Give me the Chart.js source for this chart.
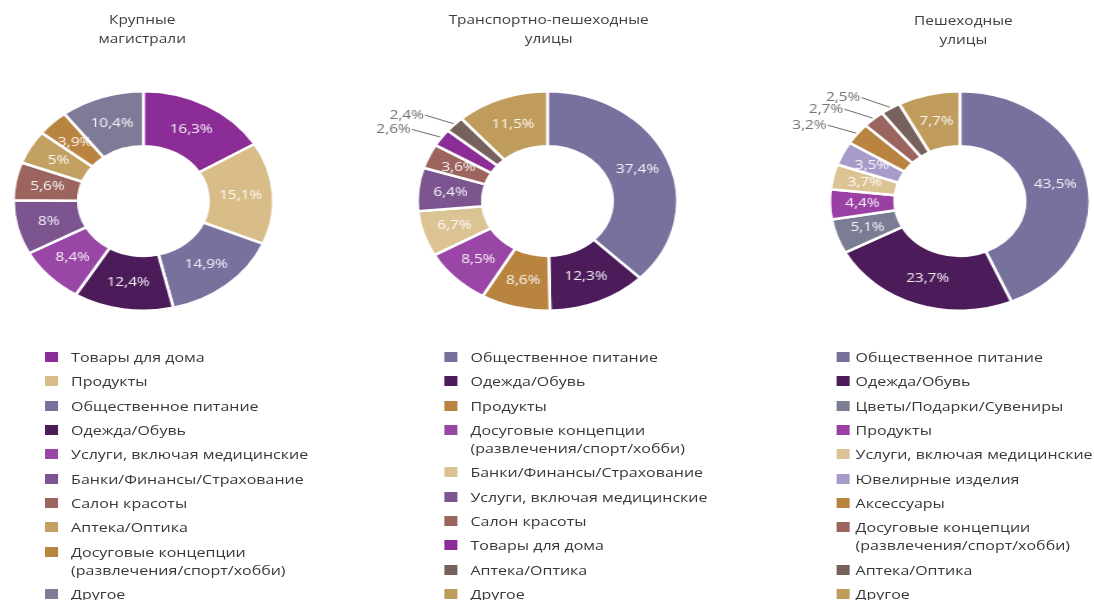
<!DOCTYPE html>
<html lang="ru">
<head>
<meta charset="utf-8">
<script src="https://cdn.jsdelivr.net/npm/chart.js@4.4.0/dist/chart.umd.min.js"></script>
<style>
    body { margin: 0; background: #fff; font-family: "Open Sans", sans-serif; }
    /* картинка в оригинале растянута по горизонтали */
    #page { position: absolute; left: 0; top: 0; width: 923px; height: 600px; transform: scaleX(1.185); transform-origin: 0 0; }
    .title { position: absolute; width: 240px; text-align: center; font-size: 13px; line-height: 19px; color: #404040; }
    .pie { position: absolute; width: 292px; height: 222px; }
    .legend { position: absolute; top: 348px; margin: 0; padding: 0; list-style: none; font-size: 13.5px; line-height: 18px; color: #383838; }
    .legend li { position: relative; margin-bottom: 6.35px; white-space: nowrap; }
    .legend .box { position: absolute; top: 4px; width: 11px; height: 10px; }
</style>
</head>
<body>
<div id="page">
    <div class="title" style="left:0px;top:10px">Крупные<br>магистрали</div>
    <div class="title" style="left:343px;top:10px">Транспортно-пешеходные<br>улицы</div>
    <div class="title" style="left:693px;top:11px">Пешеходные<br>улицы</div>

    <!-- слева запас 70px под выноски -->
    <div class="pie" style="left:-60px;top:90px"><canvas id="chart1"></canvas></div>
    <div class="pie" style="left:281px;top:90px"><canvas id="chart2"></canvas></div>
    <div class="pie" style="left:629px;top:90px"><canvas id="chart3"></canvas></div>

    <ul class="legend" id="legend1" style="left:38px"></ul>
    <ul class="legend" id="legend2" style="left:375px"></ul>
    <ul class="legend" id="legend3" style="left:706px"></ul>
</div>

<script>
// Крупные магистрали
const labels1 = ['Товары для дома', 'Продукты', 'Общественное питание', 'Одежда/Обувь',
    'Услуги, включая медицинские', 'Банки/Финансы/Страхование', 'Салон красоты', 'Аптека/Оптика',
    ['Досуговые концепции', '(развлечения/спорт/хобби)'], 'Другое'];
const values1 = [16.3, 15.1, 14.9, 12.4, 8.4, 8, 5.6, 5, 3.9, 10.4];
const colors1 = ['#8b2c97', '#d8bd88', '#78719e', '#4b1c59', '#9a46a6', '#7b5490', '#9b645f', '#c3a162', '#b8843f', '#7e7b99'];

// Транспортно-пешеходные улицы
const labels2 = ['Общественное питание', 'Одежда/Обувь', 'Продукты',
    ['Досуговые концепции', '(развлечения/спорт/хобби)'], 'Банки/Финансы/Страхование',
    'Услуги, включая медицинские', 'Салон красоты', 'Товары для дома', 'Аптека/Оптика', 'Другое'];
const values2 = [37.4, 12.3, 8.6, 8.5, 6.7, 6.4, 3.6, 2.6, 2.4, 11.5];
const colors2 = ['#78719e', '#4b1c59', '#b8843f', '#9a46a6', '#dcc393', '#7b5490', '#9b645f', '#8b2c97', '#77615c', '#c09c5c'];

// Пешеходные улицы
const labels3 = ['Общественное питание', 'Одежда/Обувь', 'Цветы/Подарки/Сувениры', 'Продукты',
    'Услуги, включая медицинские', 'Ювелирные изделия', 'Аксессуары',
    ['Досуговые концепции', '(развлечения/спорт/хобби)'], 'Аптека/Оптика', 'Другое'];
const values3 = [43.5, 23.7, 5.1, 4.4, 3.7, 3.5, 3.2, 2.7, 2.5, 7.7];
const colors3 = ['#78719e', '#4b1c59', '#7a7d94', '#9a3fa4', '#dcc393', '#a99bc9', '#b8843f', '#9b645f', '#77615c', '#c09c5c'];

// маленькие доли подписываются снаружи с выноской
const OUTSIDE_LIMIT = 3.3;

function fmt(v) {
    return String(v).replace('.', ',') + '%';
}

// подписи процентов на сегментах
const sliceLabels = {
    id: 'sliceLabels',
    afterDatasetsDraw(chart) {
        const ctx = chart.ctx;
        const values = chart.data.datasets[0].data;
        ctx.save();
        ctx.font = '13px "Open Sans", sans-serif';
        ctx.textBaseline = 'middle';
        chart.getDatasetMeta(0).data.forEach((arc, i) => {
            const p = arc.getProps(['x', 'y', 'startAngle', 'endAngle', 'innerRadius', 'outerRadius'], true);
            const mid = (p.startAngle + p.endAngle) / 2;
            const cos = Math.cos(mid), sin = Math.sin(mid);
            if (values[i] >= OUTSIDE_LIMIT) {
                const r = (p.innerRadius + p.outerRadius) / 2;
                ctx.fillStyle = 'rgba(255,255,255,0.92)';
                ctx.textAlign = 'center';
                ctx.fillText(fmt(values[i]), p.x + cos * r, p.y + sin * r);
            } else {
                // выноска уходит влево и немного вверх
                const sx = p.x + cos * (p.outerRadius + 1);
                const sy = p.y + sin * (p.outerRadius + 1);
                const ex = sx - 24, ey = sy - 3 + sin * 8;
                ctx.strokeStyle = '#6a6a6a';
                ctx.lineWidth = 1;
                ctx.beginPath();
                ctx.moveTo(sx, sy);
                ctx.lineTo(ex, ey);
                ctx.stroke();
                ctx.fillStyle = '#707070';
                ctx.textAlign = 'right';
                ctx.fillText(fmt(values[i]), ex - 1, ey);
            }
        });
        ctx.restore();
    }
};

function makeDonut(canvasId, legendId, labels, values, colors) {
    const chart = new Chart(document.getElementById(canvasId), {
        type: 'doughnut',
        data: {
            labels: labels,
            datasets: [{
                data: values,
                backgroundColor: colors,
                borderColor: '#ffffff',
                borderWidth: 2.5
            }]
        },
        options: {
            responsive: true,
            maintainAspectRatio: false,
            animation: false,
            cutout: '50%',
            layout: { padding: { left: 70 } },
            plugins: {
                legend: { display: false },
                tooltip: { enabled: false }
            }
        },
        plugins: [sliceLabels]
    });

    // легенда в html, из данных графика
    const ul = document.getElementById(legendId);
    chart.data.labels.forEach((lab, i) => {
        const li = document.createElement('li');
        li.style.paddingLeft = legendId === 'legend3' ? '16px' : '22px';
        const box = document.createElement('span');
        box.className = 'box';
        box.style.left = '0px';
        box.style.background = colors[i];
        li.appendChild(box);
        const text = Array.isArray(lab) ? lab : [lab];
        text.forEach((line, k) => {
            if (k > 0) li.appendChild(document.createElement('br'));
            li.appendChild(document.createTextNode(line));
        });
        ul.appendChild(li);
    });
    return chart;
}

makeDonut('chart1', 'legend1', labels1, values1, colors1);
makeDonut('chart2', 'legend2', labels2, values2, colors2);
makeDonut('chart3', 'legend3', labels3, values3, colors3);
</script>
</body>
</html>
